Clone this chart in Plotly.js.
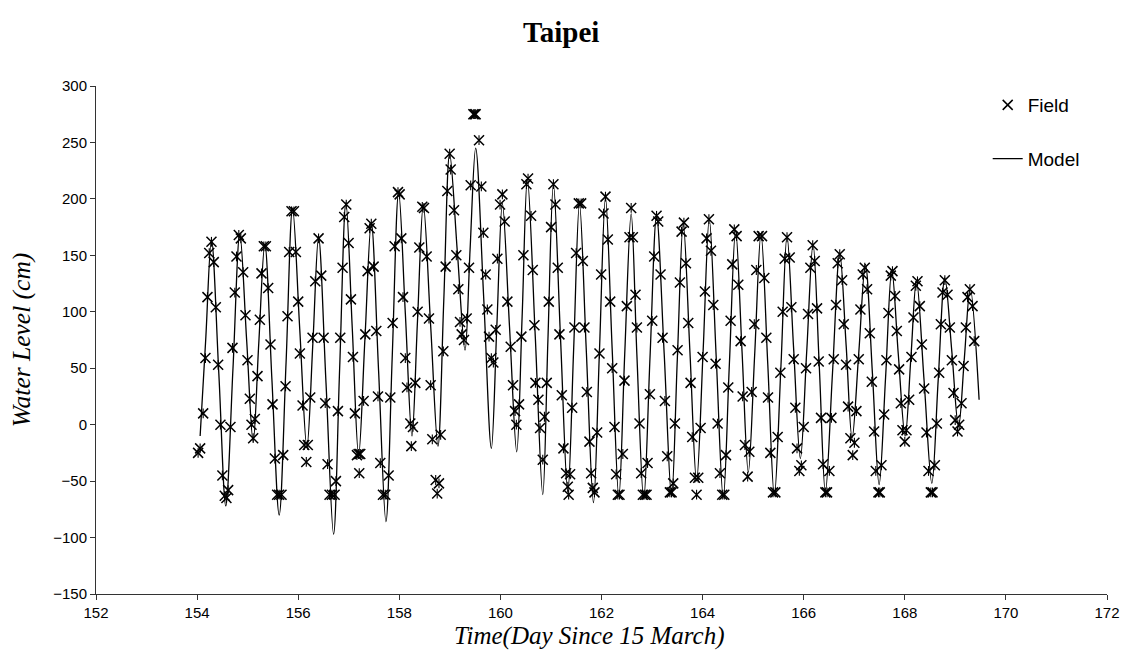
<!DOCTYPE html>
<html>
<head>
<meta charset="utf-8">
<script src="https://cdn.plot.ly/plotly-3.0.1.min.js"></script>
<style>html,body{margin:0;padding:0;background:#fff;}#chart{width:1127px;height:658px;}</style>
</head>
<body>
<div id="chart"></div>
<script>
// Field observations (day since 15 March, water level cm)
var fieldDay = [154.02,154.06,154.12,154.165,154.205,154.24,154.284,154.33,154.37,154.416,154.462,154.50,154.547,154.58,154.614,154.66,154.70,154.746,154.779,154.825,154.865,154.911,154.957,154.997,155.043,155.076,155.109,155.142,155.195,155.241,155.274,155.32,155.36,155.406,155.452,155.492,155.538,155.584,155.624,155.67,155.703,155.75,155.789,155.822,155.868,155.915,155.954,156.0,156.033,156.086,156.12,156.16,156.19,156.238,156.284,156.337,156.403,156.456,156.502,156.535,156.581,156.62,156.667,156.72,156.746,156.786,156.832,156.878,156.911,156.951,156.997,157.043,157.083,157.122,157.162,157.195,157.208,157.228,157.294,157.327,157.373,157.413,157.446,157.492,157.545,157.578,157.624,157.677,157.723,157.789,157.822,157.868,157.908,157.974,158.007,158.04,158.073,158.119,158.152,158.218,158.238,158.27,158.317,158.363,158.396,158.455,158.488,158.541,158.587,158.62,158.653,158.72,158.75,158.785,158.818,158.871,158.917,158.95,158.996,159.016,159.082,159.128,159.168,159.201,159.234,159.28,159.333,159.379,159.412,159.465,159.49,159.511,159.577,159.623,159.663,159.709,159.742,159.775,159.821,159.861,159.907,159.94,159.993,160.039,160.085,160.138,160.204,160.25,160.29,160.316,160.369,160.415,160.455,160.514,160.547,160.607,160.64,160.673,160.693,160.752,160.785,160.838,160.871,160.917,160.957,161.003,161.049,161.089,161.135,161.168,161.214,161.247,161.30,161.333,161.35,161.379,161.419,161.465,161.498,161.551,161.597,161.63,161.663,161.71,161.762,161.795,161.828,161.861,161.914,161.96,161.993,162.04,162.079,162.125,162.172,162.211,162.257,162.29,162.323,162.356,162.422,162.455,162.501,162.554,162.587,162.62,162.673,162.70,162.752,162.785,162.818,162.858,162.891,162.911,162.957,163.003,163.043,163.089,163.122,163.168,163.208,163.254,163.30,163.353,163.386,163.419,163.452,163.505,163.551,163.584,163.63,163.67,163.716,163.762,163.795,163.848,163.881,163.914,163.96,164.0,164.046,164.079,164.125,164.165,164.211,164.257,164.297,164.343,164.389,164.429,164.462,164.508,164.554,164.587,164.627,164.673,164.706,164.752,164.792,164.838,164.891,164.924,164.97,165.023,165.063,165.109,165.175,165.221,165.261,165.294,165.34,165.393,165.439,165.485,165.538,165.584,165.624,165.67,165.723,165.756,165.802,165.835,165.868,165.914,165.954,166.0,166.046,166.086,166.132,166.178,166.218,166.264,166.297,166.343,166.383,166.429,166.462,166.508,166.548,166.594,166.64,166.673,166.713,166.759,166.792,166.838,166.878,166.924,166.97,167.003,167.043,167.089,167.122,167.168,167.208,167.254,167.307,167.347,167.393,167.426,167.479,167.505,167.538,167.591,167.637,167.677,167.723,167.756,167.809,167.842,167.888,167.921,167.954,168.0,168.033,168.086,168.132,168.172,168.218,168.251,168.297,168.337,168.383,168.429,168.469,168.515,168.548,168.594,168.634,168.68,168.713,168.746,168.792,168.845,168.891,168.931,168.964,168.997,169.043,169.076,169.122,169.162,169.208,169.241,169.287,169.34,169.373];
var fieldLevel = [-25,-21,10,59,113,152,162,144,104,53,0,-45,-63,-65,-58,-2,68,117,149,168,165,135,97,57,23,0,-12,5,43,93,134,158,158,121,71,18,-30,-62,-62,-62,-27,34,96,153,189,189,153,109,63,17,-18,-33,-18,24,77,127,165,132,77,19,-35,-62,-62,-62,-50,12,77,139,184,195,161,111,60,10,-27,-26,-43,-26,21,80,136,174,178,140,83,25,-34,-62,-62,-45,24,90,158,206,204,165,113,59,33,1,-19,-2,37,100,157,193,192,149,94,35,-13,-49,-61,-52,-9,65,140,207,240,226,190,150,120,91,80,75,94,139,212,275,275,275,252,211,170,133,102,78,59,55,84,147,195,204,180,109,69,35,12,0,18,78,150,213,218,185,137,88,37,22,-3,-31,7,37,109,175,213,195,139,80,26,-21,-43,-55,-62,-44,15,86,152,196,196,145,86,29,-15,-43,-56,-60,-7,63,133,187,202,164,109,50,-2,-44,-62,-62,-26,39,105,166,192,166,115,86,1,-43,-62,-62,-62,-34,27,92,149,185,180,133,77,21,-28,-60,-60,-52,1,66,126,171,179,143,90,37,-11,-47,-62,-47,-3,60,118,165,182,154,106,54,1,-43,-62,-62,-27,33,92,142,173,167,124,74,25,-18,-46,-24,29,89,137,167,167,130,77,24,-25,-60,-60,-11,46,100,147,166,148,104,58,15,-21,-41,-36,-2,50,98,139,159,145,103,56,6,-35,-60,-60,-41,6,58,106,143,151,128,89,53,16,-12,-27,-16,12,58,102,133,139,120,81,38,-6,-41,-60,-60,-36,9,57,99,132,136,114,83,49,19,-5,-15,-5,22,60,95,123,127,105,71,32,-7,-41,-60,-60,-36,1,46,89,117,128,115,86,57,28,4,-6,0,19,52,86,113,120,105,74];

// Model curve read at its turning points and crossings
var modelDay = [154.06,154.17,154.284,154.43,154.568,154.71,154.845,154.98,155.109,155.22,155.34,155.48,155.624,155.76,155.888,156.03,156.172,156.29,156.403,156.55,156.70,156.82,156.944,157.07,157.195,157.32,157.446,157.59,157.736,157.86,157.987,158.12,158.25,158.36,158.475,158.62,158.765,158.88,158.996,159.15,159.30,159.40,159.511,159.67,159.821,159.93,160.039,160.18,160.323,160.43,160.534,160.69,160.838,160.94,161.049,161.19,161.333,161.45,161.564,161.70,161.841,161.96,162.079,162.21,162.343,162.46,162.587,162.70,162.835,162.96,163.089,163.24,163.386,163.50,163.617,163.75,163.881,164.01,164.132,164.27,164.409,164.53,164.653,164.78,164.904,165.03,165.155,165.29,165.419,165.55,165.67,165.80,165.934,166.06,166.185,166.31,166.429,166.57,166.713,166.84,166.957,167.09,167.221,167.36,167.492,167.62,167.743,167.87,168.007,168.12,168.231,168.38,168.535,168.66,168.792,168.93,169.063,169.18,169.294,169.47];
var modelLevel = [-10,75,164,45,-72,50,169,75,-15,72,160,40,-80,55,192,85,-20,72,166,37,-97,50,197,85,-27,76,179,48,-86,60,206,98,-10,92,195,88,-19,110,240,152,66,155,245,112,-21,88,196,87,-24,96,218,78,-62,75,213,76,-60,68,196,65,-69,66,201,68,-64,63,187,62,-66,60,185,63,-64,58,178,64,-50,65,182,59,-65,54,172,65,-42,62,169,53,-63,52,167,68,-30,65,160,50,-60,46,152,70,-12,64,142,45,-53,42,137,63,-10,59,128,40,-52,39,130,65,-2,60,121,22];

var xTicks = [152,154,156,158,160,162,164,166,168,170,172];
var yTicks = [-150,-100,-50,0,50,100,150,200,250,300];

var traces = [
  {x: modelDay, y: modelLevel, name: 'Model', mode: 'lines', legendgroup: 'b', legendrank: 2,
   line: {color: '#000', width: 1.3, shape: 'spline', smoothing: 1}},
  {x: fieldDay, y: fieldLevel, name: 'Field', mode: 'markers', legendgroup: 'a', legendrank: 1,
   marker: {symbol: 'x-thin-open', size: 10, color: '#000', line: {color: '#000', width: 1.5}}},
  {x: fieldDay, y: fieldLevel, name: 'Field', mode: 'markers', legendgroup: 'a', legendrank: 1, showlegend: false, hoverinfo: 'skip',
   marker: {symbol: 'line-ns-open', size: 7, color: '#000', line: {color: '#000', width: 1.1}}}
];

var serif = '"Liberation Serif", "Times New Roman", serif';
var layout = {
  width: 1127, height: 658,
  margin: {l: 96, r: 20, t: 86, b: 64},
  paper_bgcolor: '#fff', plot_bgcolor: '#fff',
  font: {family: '"Liberation Sans", Arial, sans-serif', size: 15, color: '#000'},
  title: {text: '<b>Taipei</b>', x: 0.498, xref: 'container', y: 0.951, yref: 'container', yanchor: 'middle',
          font: {family: serif, size: 29, color: '#000'}},
  xaxis: {range: [152, 172], tickvals: xTicks, ticks: 'outside', ticklen: 5, tickcolor: '#333',
          showline: true, linecolor: '#333', linewidth: 1, showgrid: false, zeroline: false,
          tickfont: {size: 15}},
  yaxis: {range: [-150, 300], tickvals: yTicks, ticks: 'outside', ticklen: 5, tickcolor: '#333',
          showline: true, linecolor: '#333', linewidth: 1, showgrid: false, zeroline: false,
          tickfont: {size: 15},
          title: {text: 'Water Level (cm)', standoff: 15,
                  font: {family: serif, size: 25.5, style: 'italic'}}},
  annotations: [{text: 'Time(Day Since 15 March)', xref: 'paper', yref: 'paper',
                 x: 0.4886, y: -0.0827, xanchor: 'center', yanchor: 'middle', showarrow: false,
                 font: {family: serif, size: 25, style: 'italic', color: '#000'}}],
  legend: {x: 0.882, y: 1.0, xanchor: 'left', yanchor: 'top', bgcolor: 'rgba(0,0,0,0)',
           traceorder: 'grouped', tracegroupgap: 26, font: {size: 19}},
  showlegend: true
};

Plotly.newPlot('chart', traces, layout, {displayModeBar: false, staticPlot: true});
</script>
</body>
</html>
